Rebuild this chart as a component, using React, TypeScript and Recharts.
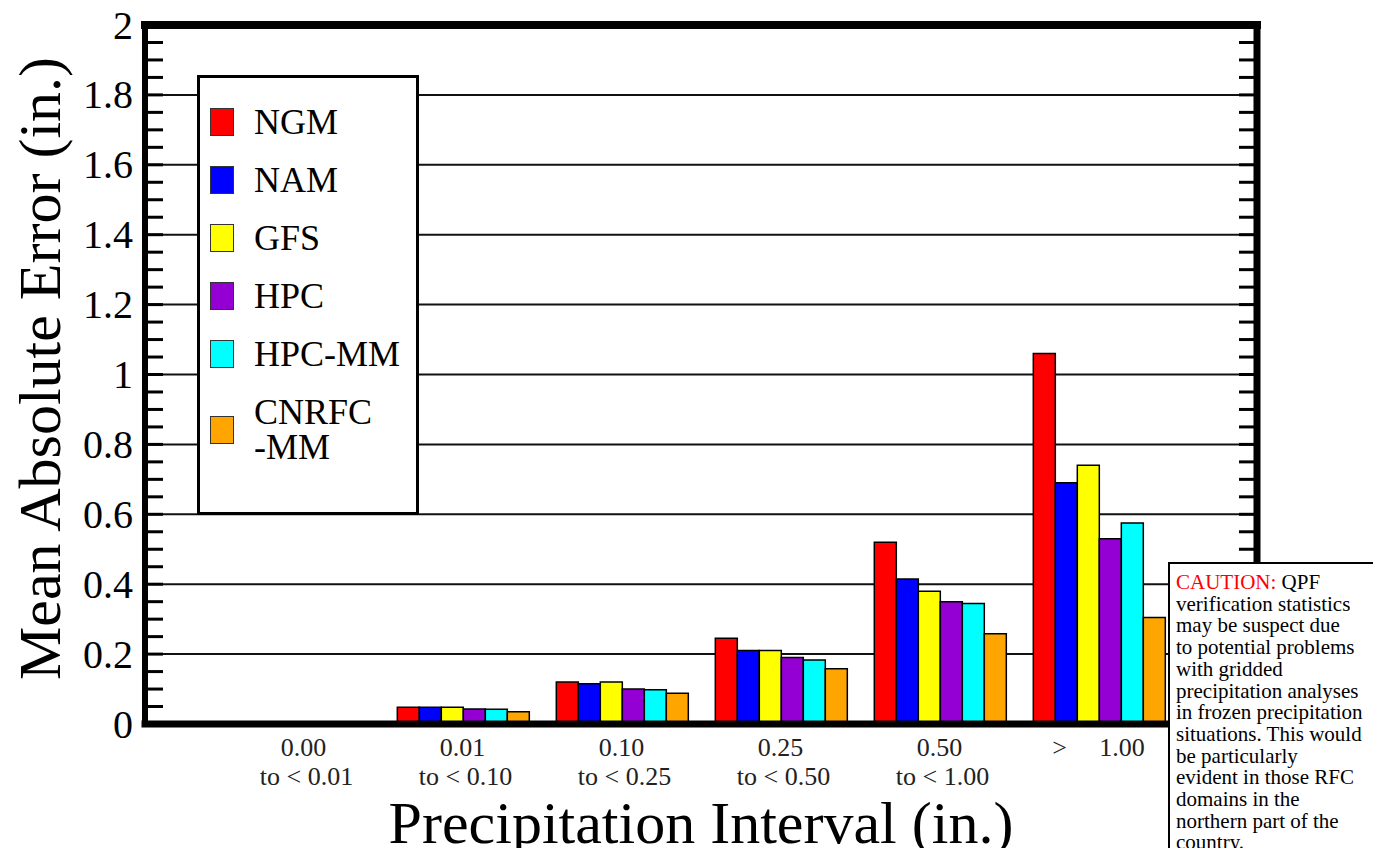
import { Bar, BarChart, CartesianGrid, Label, ReferenceLine, XAxis, YAxis } from "recharts";

const SERIF = '"Liberation Serif", "DejaVu Serif", serif';

// precipitation intervals (two-line tick labels)
const intervalFrom = ["0.00", "0.01", "0.10", "0.25", "0.50", ">\u00a0\u00a0\u00a0\u00a0\u00a01.00"];
const intervalTo = ["to < 0.01", "to < 0.10", "to < 0.25", "to < 0.50", "to < 1.00", ""];

// mean absolute error (in.) per interval
const ngm = [0, 0.048, 0.12, 0.245, 0.52, 1.06];
const nam = [0, 0.048, 0.115, 0.21, 0.415, 0.69];
const gfs = [0, 0.048, 0.12, 0.21, 0.38, 0.74];
const hpc = [0, 0.043, 0.1, 0.19, 0.35, 0.53];
const hpcMm = [0, 0.042, 0.098, 0.183, 0.345, 0.575];
const cnrfcMm = [0, 0.035, 0.088, 0.158, 0.258, 0.305];

const seriesKeys = ["NGM", "NAM", "GFS", "HPC", "HPC-MM", "CNRFC-MM"];
const seriesLabels = ["NGM", "NAM", "GFS", "HPC", "HPC-MM", "CNRFC\n-MM"];
const seriesColors = ["#ff0000", "#0000ff", "#ffff00", "#9400d3", "#00ffff", "#ffa500"];
const seriesValues = [ngm, nam, gfs, hpc, hpcMm, cnrfcMm];

const yTicks = [0, 0.2, 0.4, 0.6, 0.8, 1, 1.2, 1.4, 1.6, 1.8, 2];
const minorTicks = [
  0.05, 0.1, 0.15, 0.25, 0.3, 0.35, 0.45, 0.5, 0.55, 0.65, 0.7, 0.75, 0.85, 0.9, 0.95,
  1.05, 1.1, 1.15, 1.25, 1.3, 1.35, 1.45, 1.5, 1.55, 1.65, 1.7, 1.75, 1.85, 1.9, 1.95,
];
const allYTicks = [...yTicks, ...minorTicks].sort((a, b) => a - b);

const cautionLines = [
  "verification statistics",
  "may be suspect due",
  "to potential problems",
  "with gridded",
  "precipitation analyses",
  "in frozen precipitation",
  "situations. This would",
  "be particularly",
  "evident in those RFC",
  "domains in the",
  "northern part of the",
  "country.",
];

const data = intervalFrom.map((from, i) => {
  const row: Record<string, string | number> = { from };
  seriesKeys.forEach((key, s) => {
    row[key] = seriesValues[s][i];
  });
  return row;
});

const TICK_IN = 18;

function IntervalTick({ x, y, payload }: any) {
  const i = intervalFrom.indexOf(payload.value);
  return (
    <g fontFamily={SERIF} fontSize={26} fill="#222" textAnchor="middle">
      <text x={x} y={y + 32} style={{ whiteSpace: "pre" }}>
        {intervalFrom[i]}
      </text>
      <text x={x + 3} y={y + 61}>
        {intervalTo[i]}
      </text>
    </g>
  );
}

// labels only on the major ticks; tick text anchor sits TICK_IN px inside the axis
function ValueTick({ x, y, payload }: any) {
  if (!yTicks.includes(payload.value)) return <g />;
  return (
    <text
      x={x - TICK_IN - 12}
      y={y}
      textAnchor="end"
      dominantBaseline="central"
      fontFamily={SERIF}
      fontSize={40}
      fill="#000"
    >
      {String(payload.value)}
    </text>
  );
}

function NoLabel() {
  return <g />;
}

function YTitle({ viewBox }: any) {
  const cx = 40;
  const cy = viewBox.y + viewBox.height / 2 - 6;
  return (
    <text
      x={cx}
      y={cy}
      transform={`rotate(-90 ${cx} ${cy})`}
      textAnchor="middle"
      dominantBaseline="central"
      fontFamily={SERIF}
      fontSize={60}
      fill="#000"
    >
      Mean Absolute Error (in.)
    </text>
  );
}

function XTitle({ viewBox }: any) {
  return (
    <text
      x={viewBox.x + viewBox.width / 2}
      y={viewBox.y + 119}
      textAnchor="middle"
      fontFamily={SERIF}
      fontSize={60}
      fill="#000"
    >
      Precipitation Interval (in.)
    </text>
  );
}

function ModelLegend() {
  return (
    <div
      style={{
        position: "absolute",
        left: 197,
        top: 75,
        width: 216,
        height: 419,
        border: "3px solid #000",
        background: "#fff",
        paddingTop: 15,
        boxSizing: "content-box",
        fontFamily: SERIF,
        fontSize: 36,
        color: "#000",
      }}
    >
      {seriesLabels.map((label, i) => (
        <div
          key={label}
          style={{
            display: "flex",
            alignItems: "center",
            height: i === seriesLabels.length - 1 ? 94 : 58,
            paddingLeft: 10,
          }}
        >
          <div
            style={{
              width: 22,
              height: 26,
              background: seriesColors[i],
              border: "1.5px solid #333",
              flexShrink: 0,
            }}
          />
          <div style={{ marginLeft: 20, whiteSpace: "pre-line", lineHeight: "35px" }}>{label}</div>
        </div>
      ))}
    </div>
  );
}

function CautionBox() {
  return (
    <div
      style={{
        position: "absolute",
        left: 1168,
        top: 562,
        width: 230,
        height: 320,
        border: "2px solid #000",
        background: "#fff",
        padding: "8px 0 0 6px",
        fontFamily: SERIF,
        fontSize: 21,
        lineHeight: "21.7px",
        color: "#000",
        whiteSpace: "nowrap",
      }}
    >
      <div>
        <span style={{ color: "#ff0000" }}>CAUTION:</span> QPF
      </div>
      {cautionLines.map((line) => (
        <div key={line}>{line}</div>
      ))}
    </div>
  );
}

export default function App() {
  return (
    <div
      style={{
        position: "absolute",
        left: 0,
        top: 0,
        width: 1373,
        height: 848,
        overflow: "hidden",
        background: "#fff",
      }}
    >
      <BarChart
        width={1373}
        height={848}
        data={data}
        margin={{ top: 25, right: 0, bottom: 0, left: 0 }}
        barCategoryGap="9%"
        barGap={0}
      >
        <CartesianGrid vertical={false} horizontalValues={yTicks} stroke="#111" strokeWidth={2} />
        <XAxis
          dataKey="from"
          type="category"
          interval={0}
          height={124}
          padding={{ left: 79, right: 79 }}
          tickLine={false}
          tickSize={0}
          tickMargin={0}
          tick={<IntervalTick />}
          axisLine={{ stroke: "#000", strokeWidth: 7, strokeLinecap: "square" }}
        >
          <Label content={<XTitle />} />
        </XAxis>
        <YAxis
          domain={[0, 2]}
          allowDataOverflow
          ticks={allYTicks}
          interval={0}
          width={145}
          tickSize={-TICK_IN}
          tickMargin={0}
          tickLine={{ stroke: "#000", strokeWidth: 3 }}
          tick={<ValueTick />}
          axisLine={{ stroke: "#000", strokeWidth: 6, strokeLinecap: "square" }}
        >
          <Label content={<YTitle />} />
        </YAxis>
        <YAxis
          yAxisId="right"
          orientation="right"
          width={116}
          domain={[0, 2]}
          allowDataOverflow
          ticks={allYTicks}
          interval={0}
          tick={<NoLabel />}
          tickSize={-TICK_IN}
          tickMargin={0}
          tickLine={{ stroke: "#000", strokeWidth: 3 }}
          axisLine={{ stroke: "#000", strokeWidth: 7, strokeLinecap: "square" }}
        />
        <ReferenceLine y={2} stroke="#000" strokeWidth={8} strokeLinecap="square" />
        {seriesKeys.map((key, i) => (
          <Bar
            key={key}
            dataKey={key}
            yAxisId={i === seriesKeys.length - 1 ? "right" : 0}
            fill={seriesColors[i]}
            stroke="#000"
            strokeWidth={1.5}
            isAnimationActive={false}
          />
        ))}
      </BarChart>
      <ModelLegend />
      <CautionBox />
    </div>
  );
}
